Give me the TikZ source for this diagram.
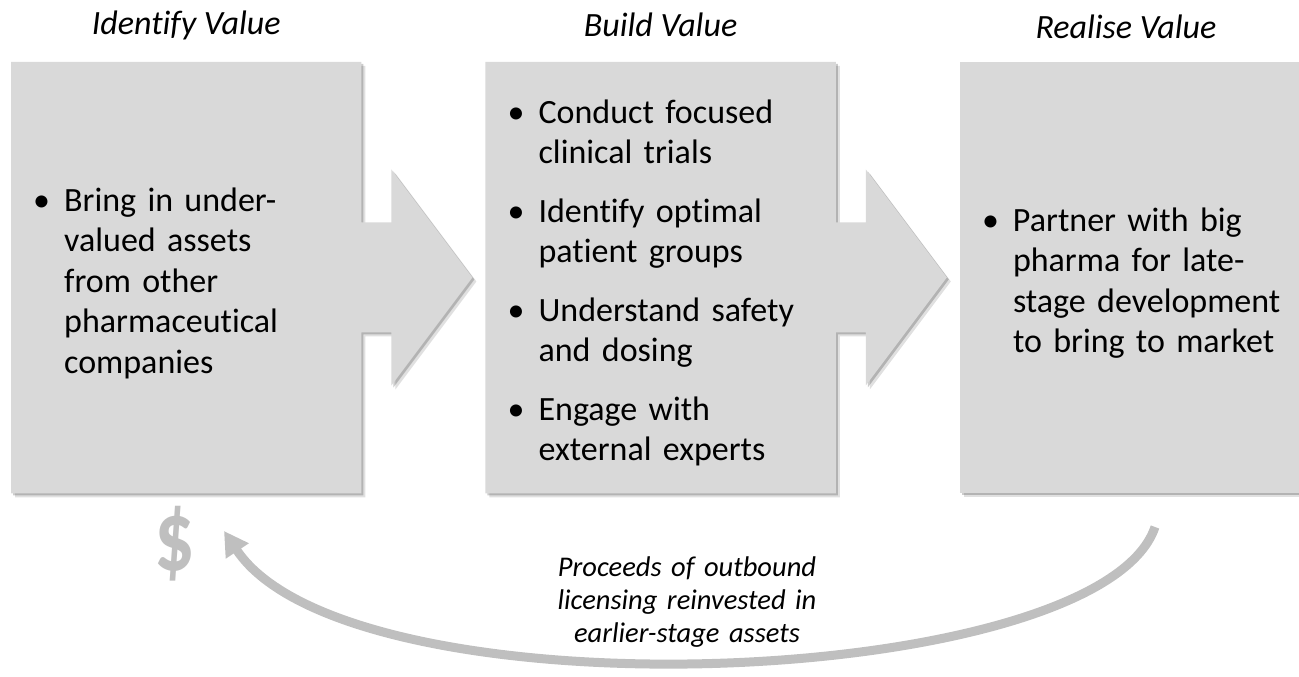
\documentclass[tikz,border=0pt]{standalone}
\usepackage{fontspec}
\setmainfont{Carlito}[Ligatures=NoCommon]
\usepackage{tikz}
\usetikzlibrary{positioning,backgrounds,shadows,arrows.meta}

\definecolor{stagegray}{HTML}{D9D9D9}
\definecolor{returngray}{HTML}{BFBFBF}

% one bullet point, later lines hang under the text
\newcommand{\bitem}[1]{\par\noindent\hangindent=31pt\hangafter=1\makebox[31pt][l]{\textbullet}#1\par}

\begin{document}
\begin{tikzpicture}[x=1pt, y=1pt,
    stage/.style={minimum height=431pt, text width=306pt, inner xsep=22pt, inner ysep=0pt, align=left,
        font=\fontsize{34}{40.5}\selectfont,
        execute at begin node={\setlength{\parskip}{18pt}\hyphenpenalty=10000\exhyphenpenalty=10000},
        execute at end node={\endgraf\kern24pt}},
    stagefill/.style={fill=stagegray,
        drop shadow={shadow xshift=4pt, shadow yshift=-4pt, opacity=.12, fill=black},
        drop shadow={shadow xshift=2pt, shadow yshift=-2pt, opacity=.2, fill=black}},
    phase/.style={anchor=base, font=\fontsize{34}{40}\selectfont\itshape},
    reinvest/.style={draw=returngray, line width=9pt, -{Triangle[length=24pt, width=26pt]}}
]
\useasboundingbox (0,0) rectangle (1299,677);

% the three stages
\node[stage, anchor=north west] (identify) at (11,615) {\bitem{Bring in under-\newline valued assets\newline from other\newline pharmaceutical\newline companies}};
\node[stage, right=124pt of identify] (build) {\bitem{Conduct focused\newline clinical trials}
    \bitem{Identify optimal\newline patient groups}
    \bitem{Understand safety\newline and dosing}
    \bitem{Engage with\newline external experts}};
\node[stage, text width=296pt, right=124pt of build] (realise) {\bitem{Partner with big\newline pharma for late-\newline stage~development\newline to bring to market}};

% headings
\node[phase] (identifytitle) at ([yshift=27pt]identify.north) {Identify Value};
\node[phase] (buildtitle) at ([yshift=25pt]build.north) {Build Value};
\node[phase] (realisetitle) at ([xshift=-4pt, yshift=23pt]realise.north) {Realise Value};

% grey boxes with their arrows
\begin{scope}[on background layer]
\fill[stagefill] (identify.north west) -- (identify.north east) -- ++(0,-160.5) -- ++(30,0) -- ++(0,53)
    -- ++(81,-108) -- ++(-81,-108) -- ++(0,53) -- ++(-30,0) -- (identify.south east) -- (identify.south west) -- cycle;
\fill[stagefill] (build.north west) -- (build.north east) -- ++(0,-160.5) -- ++(30,0) -- ++(0,53)
    -- ++(81,-108) -- ++(-81,-108) -- ++(0,53) -- ++(-30,0) -- (build.south east) -- (build.south west) -- cycle;
\fill[stagefill] (realise.north west) rectangle (realise.south east);
\end{scope}

% money flowing back
\node[font=\fontsize{100}{100}\selectfont\bfseries, text=returngray] (dollar) at (175,133) {\scalebox{0.8}[1]{\$}};
\coordinate (loopstart) at (1155,150);
\coordinate (loopend) at (224,146);
\draw[reinvest] (loopstart) .. controls +(-55,-163) and +(126,-189) .. (loopend);
\node[anchor=base, text width=330pt, align=center, font=\fontsize{28.5}{33}\selectfont\itshape] (proceeds) at (687,100)
    {Proceeds of outbound\\licensing reinvested in\\earlier-stage assets};

\end{tikzpicture}
\end{document}
